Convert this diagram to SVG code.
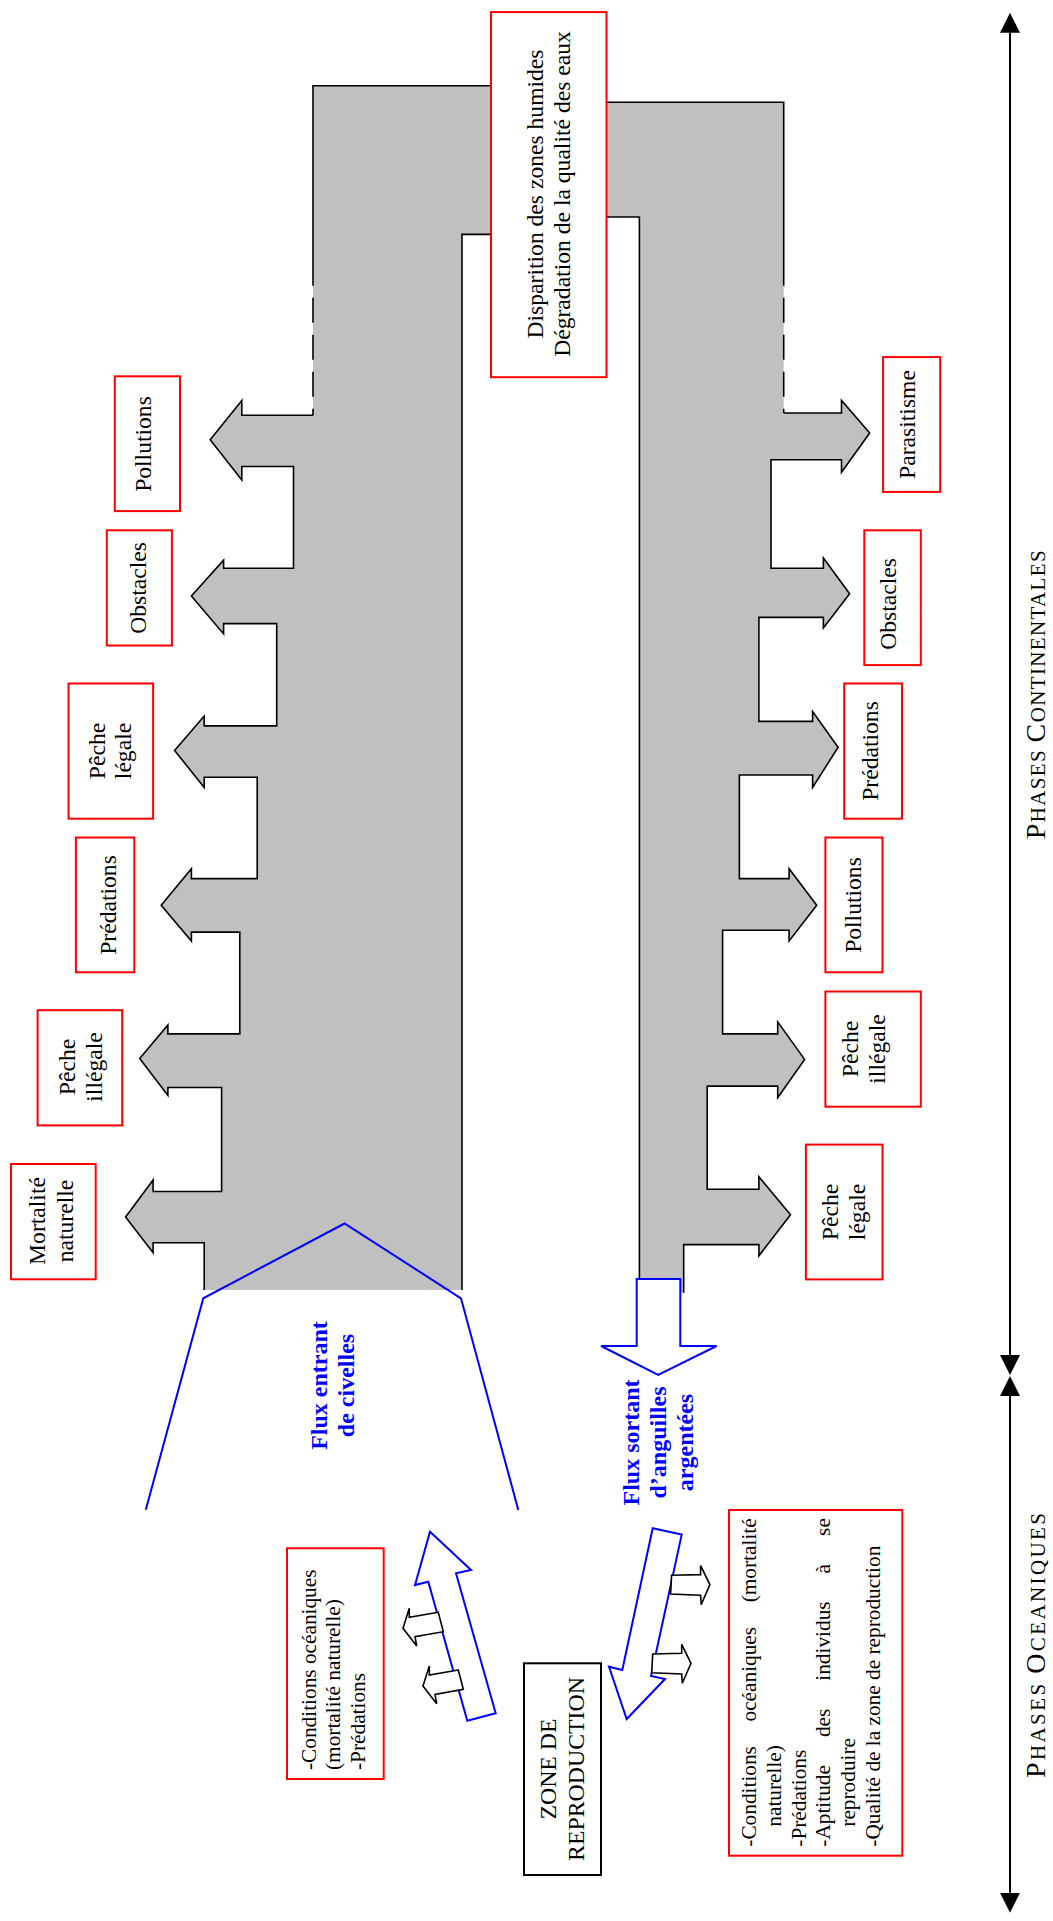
<svg xmlns="http://www.w3.org/2000/svg" width="1053" height="1921" viewBox="0 0 1053 1921">
<defs>
<style>
.t{font-family:"Liberation Serif","Times New Roman",serif;font-size:23.6px;fill:#000;text-anchor:middle}
.s{font-family:"Liberation Serif","Times New Roman",serif;font-size:21.3px;fill:#000}
.flux{font-family:"Liberation Serif","Times New Roman",serif;font-size:24px;font-weight:bold;fill:#0000FF;text-anchor:middle}
.ph{font-family:"Liberation Serif","Times New Roman",serif;font-size:21px;fill:#000}
.rb{fill:#fff;stroke:#FF0000;stroke-width:2}
.kb{fill:#fff;stroke:#000;stroke-width:2}
.edge{fill:none;stroke:#000;stroke-width:1.6}
.dash{fill:none;stroke:#000;stroke-width:1.6;stroke-dasharray:25 12;stroke-dashoffset:-12}
.blue{fill:#fff;stroke:#0000FF;stroke-width:2;stroke-linejoin:miter}
.bl{fill:none;stroke:#0000FF;stroke-width:2}
.small{fill:#fff;stroke:#000;stroke-width:1.6;stroke-linejoin:miter}
.axis{stroke:#000;stroke-width:2;fill:none}
</style>
<marker id="ah" viewBox="0 0 20 20" refX="0" refY="10" markerWidth="20" markerHeight="20" markerUnits="userSpaceOnUse" orient="auto-start-reverse">
<path d="M0,0 L20,10 L0,20 Z" fill="#000"/>
</marker>
<polygon id="sa" points="438.3,1612.3 409.3,1617.3 409.3,1608.3 403,1628.3 416.7,1646 415,1636.7 443.3,1631.7"/>
<polygon id="sd" points="652.7,1654 681.7,1653.3 681.7,1644.3 691,1663.3 682.3,1683.3 681.7,1674 651.7,1672.7"/>
</defs>
<rect width="1053" height="1921" fill="#fff"/>

<g id="channel">
<path fill="#C0C0C0" d="M313,85.7 H550 V102.2 H783.7 V413 H841.5 V400.4 L869.7,433 L841.5,472.3 V459.8 H771 V568.3 H823.4 V558 L849.6,593.7 L823.4,628 V617.4 H758.9 V721.4 H812.6 V711.6 L838.1,747.3 L812.6,787.5 V775 H739.4 V878.6 H789.1 V868.7 L816.7,905.3 L789.1,941 V930.3 H722.6 V1033.9 H777.7 V1021.9 L804.6,1059.4 L777.7,1097.7 V1086.1 H707.2 V1189.3 H758.9 V1176.8 L790.5,1214.7 L758.9,1255.8 V1244.6 H683.7 V1292.8 H639.4 V217 H550 V234.4 H462 V1290 H204.2 V1242.8 H153.1 V1252.7 L125.6,1216.9 L153.1,1179.9 V1191.5 H221.6 V1087.5 H167.9 V1095.5 L139.7,1058.5 L167.9,1025 V1033.9 H239.8 V932.1 H191.4 V941 L161.2,905.3 L191.4,868.7 V878.6 H257.2 V777.2 H204.2 V787.5 L174.6,750.4 L204.2,716.1 V725.9 H276.7 V623.6 H223.6 V633.9 L191.4,596 L223.6,560.2 V568.3 H293.5 V466.5 H241.8 V479.9 L210.2,439.7 L241.8,400.4 V415.2 H313 Z"/>
<path class="edge" d="M491,85.7 H313 V285.7"/>
<path class="dash" d="M313,285.7 V415.2"/>
<path class="edge" d="M313,415.2 H241.8 V400.4 L210.2,439.7 L241.8,479.9 V466.5 H293.5 V568.3 H223.6 V560.2 L191.4,596 L223.6,633.9 V623.6 H276.7 V725.9 H204.2 V716.1 L174.6,750.4 L204.2,787.5 V777.2 H257.2 V878.6 H191.4 V868.7 L161.2,905.3 L191.4,941 V932.1 H239.8 V1033.9 H167.9 V1025 L139.7,1058.5 L167.9,1095.5 V1087.5 H221.6 V1191.5 H153.1 V1179.9 L125.6,1216.9 L153.1,1252.7 V1242.8 H204.2 V1290"/>
<path class="edge" d="M491,234.4 H462 V1290"/>
<path class="edge" d="M606.5,102.2 H783.7 V285.7"/>
<path class="dash" d="M783.7,285.7 V413"/>
<path class="edge" d="M783.7,413 H841.5 V400.4 L869.7,433 L841.5,472.3 V459.8 H771 V568.3 H823.4 V558 L849.6,593.7 L823.4,628 V617.4 H758.9 V721.4 H812.6 V711.6 L838.1,747.3 L812.6,787.5 V775 H739.4 V878.6 H789.1 V868.7 L816.7,905.3 L789.1,941 V930.3 H722.6 V1033.9 H777.7 V1021.9 L804.6,1059.4 L777.7,1097.7 V1086.1 H707.2 V1189.3 H758.9 V1176.8 L790.5,1214.7 L758.9,1255.8 V1244.6 H683.7 V1292.8"/>
<path class="edge" d="M606.5,217 H639.4 V1292.8"/>
</g>

<g id="connectors">
<polyline class="bl" points="145.8,1509.8 203.3,1298.3 344.5,1223.5 461,1298.3 518.3,1510"/>
<polygon class="blue" points="636.7,1279 680.3,1279 680.3,1346 716.6,1346 658.2,1375 601.1,1346 636.7,1346"/>
<polygon class="blue" points="430,1531.7 471,1570 456,1573.3 495.7,1713.3 467.3,1720.7 428.3,1581.7 415,1585"/>
<polygon class="blue" points="652.7,1528.3 681.7,1534.6 651,1676 665,1679 626.7,1719 609,1666.7 622.3,1670"/>
<use href="#sa" class="small"/>
<use href="#sa" class="small" transform="translate(20,57.7)"/>
<use href="#sd" class="small" transform="translate(18.9,-78.7)"/>
<use href="#sd" class="small"/>
<line class="axis" x1="1010" y1="32.7" x2="1010" y2="1355" marker-start="url(#ah)" marker-end="url(#ah)"/>
<line class="axis" x1="1010" y1="1396" x2="1010" y2="1892.7" marker-start="url(#ah)" marker-end="url(#ah)"/>
</g>

<g id="n-disparition">
<rect class="rb" x="491" y="12.1" width="115.5" height="365.1"/>
<text class="t" transform="translate(542.6,194) rotate(-90)">Disparition des zones humides</text>
<text class="t" transform="translate(569.5,194) rotate(-90)">Dégradation de la qualité des eaux</text>
</g>

<g id="n-pollutions-l">
<rect class="rb" x="114.8" y="376.3" width="65.2" height="134.8"/>
<text class="t" transform="translate(151,444) rotate(-90)">Pollutions</text>
</g>
<g id="n-obstacles-l">
<rect class="rb" x="106.8" y="530.3" width="65.1" height="115.2"/>
<text class="t" transform="translate(146,588) rotate(-90)">Obstacles</text>
</g>
<g id="n-peche-legale-l">
<rect class="rb" x="68.5" y="683.5" width="84.6" height="135.2"/>
<text class="t" transform="translate(104.5,751) rotate(-90)">Pêche</text>
<text class="t" transform="translate(131,751) rotate(-90)">légale</text>
</g>
<g id="n-predations-l">
<rect class="rb" x="75.9" y="837.5" width="58.4" height="134.8"/>
<text class="t" transform="translate(116,905) rotate(-90)">Prédations</text>
</g>
<g id="n-peche-illegale-l">
<rect class="rb" x="37.6" y="1010.2" width="84.6" height="115.2"/>
<text class="t" transform="translate(75,1067) rotate(-90)">Pêche</text>
<text class="t" transform="translate(102,1067) rotate(-90)">illégale</text>
</g>
<g id="n-mortalite">
<rect class="rb" x="11" y="1164" width="84.7" height="115.3"/>
<text class="t" transform="translate(45,1221) rotate(-90)">Mortalité</text>
<text class="t" transform="translate(73,1221) rotate(-90)">naturelle</text>
</g>

<g id="n-parasitisme">
<rect class="rb" x="883.1" y="357.1" width="57.1" height="134.8"/>
<text class="t" transform="translate(915,424.5) rotate(-90)">Parasitisme</text>
</g>
<g id="n-obstacles-r">
<rect class="rb" x="864.3" y="530.3" width="56.5" height="134.8"/>
<text class="t" transform="translate(896,604) rotate(-90)">Obstacles</text>
</g>
<g id="n-predations-r">
<rect class="rb" x="844.2" y="683.5" width="57.8" height="135.2"/>
<text class="t" transform="translate(878,751) rotate(-90)">Prédations</text>
</g>
<g id="n-pollutions-r">
<rect class="rb" x="825.4" y="837.5" width="57.1" height="134.8"/>
<text class="t" transform="translate(861,905) rotate(-90)">Pollutions</text>
</g>
<g id="n-peche-illegale-r">
<rect class="rb" x="825.4" y="991.5" width="95.4" height="115.2"/>
<text class="t" transform="translate(858,1049) rotate(-90)">Pêche</text>
<text class="t" transform="translate(885,1049) rotate(-90)">illégale</text>
</g>
<g id="n-peche-legale-r">
<rect class="rb" x="805.9" y="1144.6" width="76.6" height="134.8"/>
<text class="t" transform="translate(838,1212) rotate(-90)">Pêche</text>
<text class="t" transform="translate(865,1212) rotate(-90)">légale</text>
</g>

<g id="n-flux-entrant">
<text class="flux" transform="translate(326.7,1385.5) rotate(-90)">Flux entrant</text>
<text class="flux" transform="translate(354,1385.5) rotate(-90)">de civelles</text>
</g>
<g id="n-flux-sortant">
<text class="flux" transform="translate(639,1442.5) rotate(-90)">Flux sortant</text>
<text class="flux" transform="translate(666,1442.5) rotate(-90)">d’anguilles</text>
<text class="flux" transform="translate(693,1442.5) rotate(-90)">argentées</text>
</g>

<g id="n-conditions-entree">
<rect class="rb" x="287" y="1548.3" width="96.7" height="230.7"/>
<text class="s" transform="translate(315.5,1770) rotate(-90)">-Conditions océaniques</text>
<text class="s" transform="translate(340,1770) rotate(-90)">(mortalité naturelle)</text>
<text class="s" transform="translate(364.5,1770) rotate(-90)">-Prédations</text>
</g>

<g id="n-zone-reproduction">
<rect class="kb" x="524" y="1663.3" width="77" height="211.7"/>
<text class="t" style="font-size:23.8px" transform="translate(556,1769) rotate(-90)">ZONE DE</text>
<text class="t" style="font-size:23.8px" transform="translate(584.3,1769) rotate(-90)">REPRODUCTION</text>
</g>

<g id="n-conditions-sortie">
<rect class="rb" x="729" y="1510" width="173.3" height="345.7"/>
<g class="s">
<text transform="translate(756,1846.7) rotate(-90)">-Conditions</text>
<text transform="translate(756,1721.5) rotate(-90)">océaniques</text>
<text transform="translate(756,1602.3) rotate(-90)">(mortalité</text>
<text transform="translate(780.8,1826.7) rotate(-90)">naturelle)</text>
<text transform="translate(805.6,1846.7) rotate(-90)">-Prédations</text>
<text transform="translate(830.4,1846.7) rotate(-90)">-Aptitude</text>
<text transform="translate(830.4,1737.1) rotate(-90)">des</text>
<text transform="translate(830.4,1680.7) rotate(-90)">individus</text>
<text transform="translate(830.4,1573.4) rotate(-90)">à</text>
<text transform="translate(830.4,1535.9) rotate(-90)">se</text>
<text transform="translate(855.2,1826.7) rotate(-90)">reproduire</text>
<text transform="translate(880,1846.7) rotate(-90)">-Qualité de la zone de reproduction</text>
</g>
</g>

<g id="n-phases">
<text class="ph" transform="translate(1045,839.3) rotate(-90)" textLength="289" lengthAdjust="spacing"><tspan font-size="28">P</tspan>HASES <tspan font-size="28">C</tspan>ONTINENTALES</text>
<text class="ph" transform="translate(1045,1778) rotate(-90)" textLength="265" lengthAdjust="spacing"><tspan font-size="28">P</tspan>HASES <tspan font-size="28">O</tspan>CEANIQUES</text>
</g>
</svg>
